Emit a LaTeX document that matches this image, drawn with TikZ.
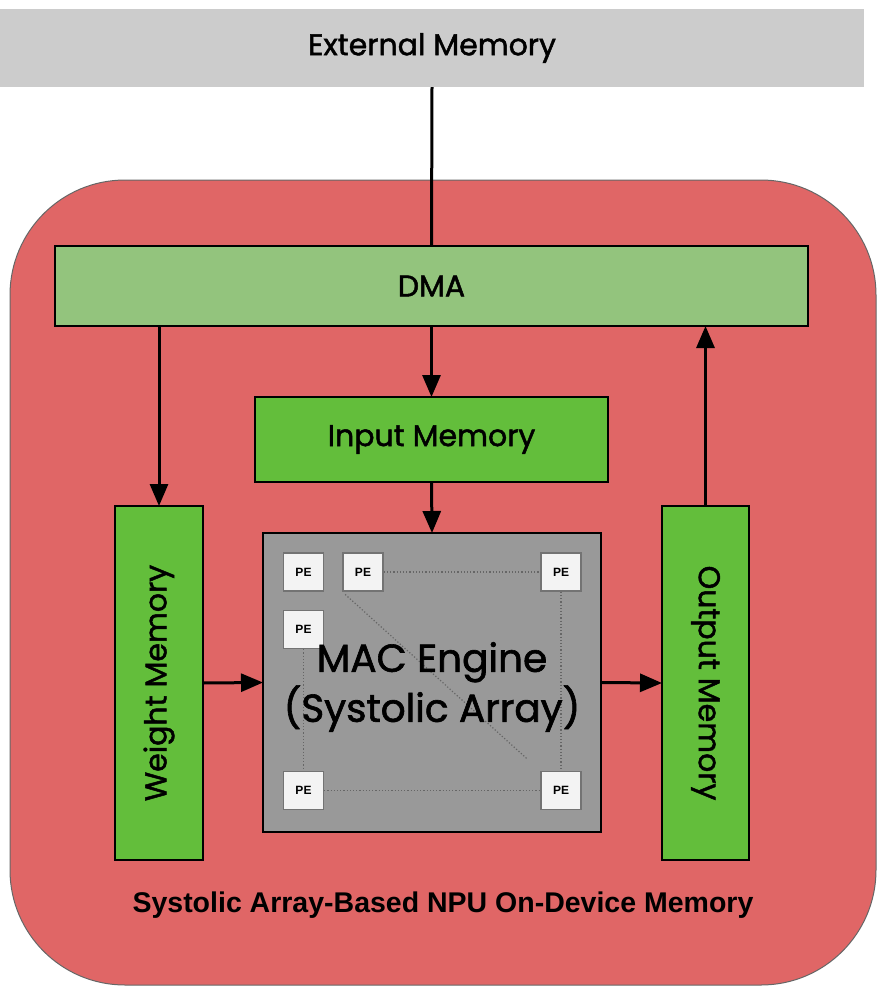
\documentclass[tikz,border=0pt]{standalone}
\usepackage{fontspec}
\setmainfont{Poppins}[RawFeature={embolden=1.6}]
\newfontfamily\capfont{Liberation Sans}
\usetikzlibrary{arrows.meta,positioning}

\definecolor{extgray}{HTML}{CCCCCC}
\definecolor{npured}{HTML}{E06666}
\definecolor{dmagreen}{HTML}{93C47D}
\definecolor{memgreen}{RGB}{99,190,59}
\definecolor{macgray}{HTML}{999999}
\definecolor{pefill}{HTML}{F3F3F3}

\begin{document}
\begin{tikzpicture}[x=1pt, y=-1pt,
    testo/.style={font=\fontsize{30}{36}\selectfont},
    blocco/.style={draw=black, line width=2pt, inner sep=0pt, outer sep=0pt, testo},
    memoria/.style={blocco, fill=memgreen},
    pe/.style={draw=black!55, line width=1.5pt, fill=pefill, inner sep=0pt,
      minimum width=40pt, minimum height=38pt, font=\capfont\bfseries\fontsize{12}{14}\selectfont},
    freccia/.style={line width=3pt, -{Triangle[length=22pt, width=18pt]}},
    griglia/.style={dotted, black!60, line width=1.2pt}]
  \useasboundingbox (0,0) rectangle (884,999);

  % Memoria esterna e contenitore della NPU
  \node[fill=extgray, minimum width=864pt, minimum height=78pt, inner sep=0pt,
    testo] (ext) at (432,48) {External Memory};
  \node[draw=black!60, line width=1pt, fill=npured, rounded corners=115pt,
    minimum width=866pt, minimum height=805pt] (npu) at (443,582.5) {};

  % Blocchi interni
  \node[blocco, fill=dmagreen, minimum width=753pt, minimum height=80pt] (dma) at (431.5,286) {DMA};
  \node[memoria, minimum width=353pt, minimum height=85pt] (input) at (431.5,439.5) {Input Memory};
  \node[blocco, fill=macgray, minimum width=338pt, minimum height=299pt] (mac) at (432,682.5) {};
  \node[memoria, minimum width=88pt, minimum height=354pt] (weight) at (159,683) {};
  \node[memoria, minimum width=87pt, minimum height=354pt] (output) at (705.5,683) {};
  \node[rotate=90, testo] at (weight) {Weight Memory};
  \node[rotate=-90, testo] at (output) {Output Memory};

  % Elementi di calcolo (PE)
  \node[pe] (pe1) at (303.5,572) {PE};
  \node[pe, right=18pt of pe1] (pe2) {PE};
  \node[pe] (pe3) at (561,572) {PE};
  \node[pe, below=18pt of pe1] (pe4) {PE};
  \node[pe] (pe5) at (303.5,790.5) {PE};
  \node[pe] (pe6) at (561,790.5) {PE};
  \draw[griglia] (pe2.east) -- (pe3.west);
  \draw[griglia] (pe3.south) -- (pe6.north);
  \draw[griglia] (pe4.south) -- (pe5.north);
  \draw[griglia] (pe5.east) -- (pe6.west);
  \draw[griglia, shorten <=4pt, shorten >=18pt] (pe2.south west) -- (pe6.north west);
  \node[align=center, font=\fontsize{39}{50}\selectfont] (mactxt) at (432,687) {MAC Engine\\(Systolic Array)};

  % Collegamenti
  \draw[line width=3pt] (ext.south) -- (dma.north);
  \draw[freccia] (dma.south -| weight.north) -- (weight.north);
  \draw[freccia] (dma.south) -- (input.north);
  \draw[freccia] (input.south) -- (mac.north);
  \draw[freccia] (weight.east) -- (mac.west);
  \draw[freccia] (mac.east) -- (output.west);
  \draw[freccia] (output.north) -- (output.north |- dma.south);

  \node[font=\capfont\bfseries\fontsize{28.5}{32}\selectfont] (titolo) at (443,905)
    {Systolic Array-Based NPU On-Device Memory};
\end{tikzpicture}
\end{document}
